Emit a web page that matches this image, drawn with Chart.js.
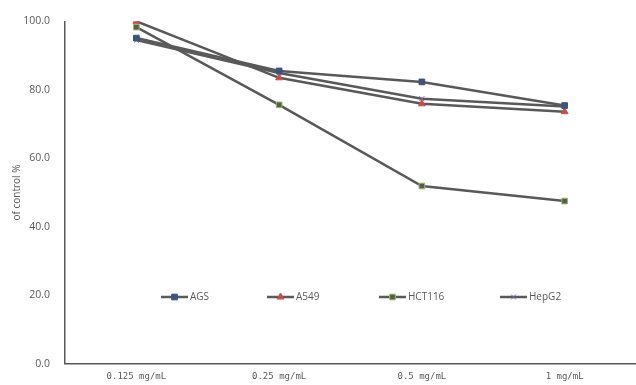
<!DOCTYPE html>
<html>
<head>
<meta charset="utf-8">
<script src="https://cdn.jsdelivr.net/npm/chart.js@4/dist/chart.umd.min.js"></script>
<style>
  body { margin: 0; background: #fff; }
  #wrap { width: 636px; height: 385px; }
</style>
</head>
<body>
<div id="wrap"><canvas id="chart01"></canvas></div>
<script>
// categories and values
var doses = ['0.125 mg/mL', '0.25 mg/mL', '0.5 mg/mL', '1 mg/mL'];
var ags = [95.1, 85.5, 82.3, 75.4];
var a549 = [100.0, 83.5, 75.9, 73.6];
var hct116 = [98.3, 75.6, 51.9, 47.5];
var hepg2 = [94.5, 84.9, 77.4, 75.1];
var yTicks = [0, 20, 40, 60, 80, 100];

var LINE = '#595959';

// legend drawn inside the plot, like the reference
var innerLegend = {
  id: 'innerLegend',
  afterDraw: function (chart) {
    var ctx = chart.ctx;
    var xs = [161, 267, 379, 500];
    var y = 297;
    ctx.save();
    chart.data.datasets.forEach(function (ds, i) {
      var x = xs[i];
      ctx.strokeStyle = LINE;
      ctx.lineWidth = 2.5;
      ctx.beginPath();
      ctx.moveTo(x, y);
      ctx.lineTo(x + 27, y);
      ctx.stroke();
      ctx.fillStyle = ds.pointBackgroundColor;
      ctx.strokeStyle = ds.pointBorderColor;
      ctx.lineWidth = ds.pointBorderWidth;
      Chart.helpers.drawPoint(ctx, {
        pointStyle: ds.pointStyle,
        radius: ds.pointRadius,
        borderWidth: ds.pointBorderWidth
      }, x + 13.5, y);
      ctx.fillStyle = '#595959';
      ctx.font = '10px "Open Sans", sans-serif';
      ctx.textBaseline = 'middle';
      ctx.fillText(ds.label, x + 29, y);
    });
    ctx.restore();
  }
};

function makeSet (label, data, style, bg, border, r) {
  return {
    label: label,
    data: data,
    borderColor: LINE,
    borderWidth: 2.5,
    pointStyle: style,
    pointRadius: r,
    pointBorderWidth: 1,
    pointBackgroundColor: bg,
    pointBorderColor: border,
    pointHoverRadius: r,
    tension: 0
  };
}

var ctx = document.getElementById('chart01').getContext('2d');
var chart = new Chart(ctx, {
  type: 'line',
  data: {
    labels: doses,
    datasets: [
      makeSet('AGS', ags, 'rect', '#44546a', '#2f5597', 4),
      makeSet('A549', a549, 'triangle', '#c0504d', '#c0504d', 4),
      makeSet('HCT116', hct116, 'rect', '#595959', '#9bbb59', 4),
      makeSet('HepG2', hepg2, 'crossRot', '#8064a2', '#8064a2', 3.5)
    ]
  },
  options: {
    responsive: true,
    maintainAspectRatio: false,
    animation: false,
    layout: { autoPadding: false, padding: { top: 19, right: 0, left: 0, bottom: 0 } },
    plugins: {
      legend: { display: false },
      tooltip: { enabled: false }
    },
    scales: {
      x: {
        offset: true,
        grid: { display: false, drawTicks: false, offset: true },
        border: { color: '#595959', width: 1.5 },
        ticks: {
          color: '#595959',
          padding: 8,
          maxRotation: 0,
          font: { family: '"DejaVu Sans Mono", monospace', size: 9 }
        },
        afterFit: function (scale) { scale.height = 21; }
      },
      y: {
        min: 0,
        max: 100,
        afterBuildTicks: function (scale) {
          scale.ticks = yTicks.map(function (v) { return { value: v }; });
        },
        grid: { display: false, drawTicks: false },
        border: { color: '#595959', width: 1.5 },
        ticks: {
          color: '#595959',
          padding: 15,
          font: { family: '"Open Sans", sans-serif', size: 10.5 },
          callback: function (v) { return Number(v).toFixed(1); }
        },
        title: {
          display: true,
          text: 'of control %',
          color: '#595959',
          padding: { top: 11, bottom: 0 },
          font: { family: '"Open Sans", sans-serif', size: 10 }
        },
        afterFit: function (scale) { scale.width = 65; }
      }
    }
  },
  plugins: [innerLegend]
});
</script>
</body>
</html>
